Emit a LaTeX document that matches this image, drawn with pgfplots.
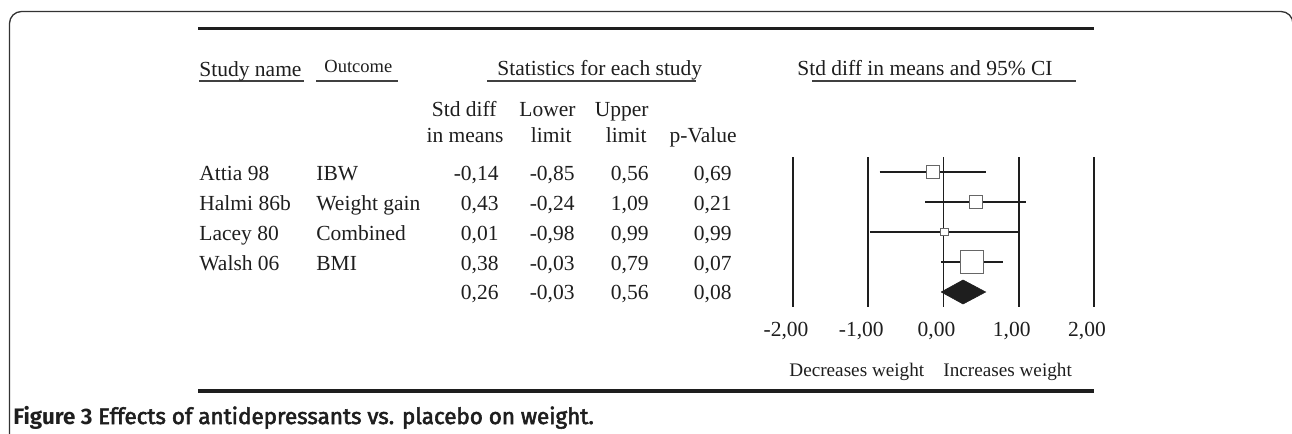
\documentclass[border=0pt]{standalone}
\usepackage{fontspec}
\setmainfont{Liberation Serif}
\newfontfamily\capfont{Fira Sans}
\newfontfamily\capsemi[FakeBold=2.5]{Fira Sans}
\usepackage{pgfplots}
\pgfplotsset{compat=1.18}
\newcommand{\mf}{\fontsize{10.75}{12}\selectfont}
\newcommand{\sfz}{\fontsize{9.25}{11}\selectfont}
\newcommand{\lf}{\fontsize{9.6}{11}\selectfont}
\definecolor{ink}{HTML}{1E1E1E}
\begin{document}
\begin{tikzpicture}[x=0.5pt,y=-0.5pt]
\useasboundingbox (0,0) rectangle (1292,434);
\begin{scope}
\clip (0,0) rectangle (1292,434);
\draw[line width=0.65pt, black!80, rounded corners=6pt] (9.5,600) -- (9.5,11.5) -- (1293,11.5) -- (1293,600);
\end{scope}
% rules
\draw[line width=1.9pt, ink] (198,28.5) -- (1094,28.5);
\draw[line width=1.6pt, ink] (198,391) -- (1094,391);
\draw[line width=0.65pt, black!75] (199,81) -- (304,81);
\draw[line width=0.65pt, black!75] (316,81) -- (398,81);
\draw[line width=0.65pt, black!75] (487,81) -- (696,81);
\draw[line width=0.65pt, black!75] (812,81) -- (1076,81);
% headers
\begin{scope}[every node/.style={inner sep=0pt, text=ink, font=\mf}]
\node[anchor=base west] at (199,76) {Study name};
\node[anchor=base west, font=\sfz] at (324,72) {Outcome};
\node[anchor=base west] at (497,75) {Statistics for each study};
\node[anchor=base west] at (797,75) {Std diff in means and 95\% CI};
\node[anchor=base east] at (497,116) {Std diff};
\node[anchor=base east] at (504,142) {in means};
\node[anchor=base east] at (576,116) {Lower};
\node[anchor=base east] at (572,142) {limit};
\node[anchor=base east] at (649,116) {Upper};
\node[anchor=base east] at (647,142) {limit};
\node[anchor=base east] at (737,142) {p-Value};
% rows
\node[anchor=base west] at (199,180) {Attia 98};
\node[anchor=base west] at (316,180) {IBW};
\node[anchor=base east] at (499,180) {-0,14};
\node[anchor=base east] at (575,180) {-0,85};
\node[anchor=base east] at (649,180) {0,56};
\node[anchor=base east] at (732,180) {0,69};
\node[anchor=base west] at (199,210) {Halmi 86b};
\node[anchor=base west] at (316,210) {Weight gain};
\node[anchor=base east] at (499,210) {0,43};
\node[anchor=base east] at (575,210) {-0,24};
\node[anchor=base east] at (649,210) {1,09};
\node[anchor=base east] at (732,210) {0,21};
\node[anchor=base west] at (199,240) {Lacey 80};
\node[anchor=base west] at (316,240) {Combined};
\node[anchor=base east] at (499,240) {0,01};
\node[anchor=base east] at (575,240) {-0,98};
\node[anchor=base east] at (649,240) {0,99};
\node[anchor=base east] at (732,240) {0,99};
\node[anchor=base west] at (199,270) {Walsh 06};
\node[anchor=base west] at (316,270) {BMI};
\node[anchor=base east] at (499,270) {0,38};
\node[anchor=base east] at (575,270) {-0,03};
\node[anchor=base east] at (649,270) {0,79};
\node[anchor=base east] at (732,270) {0,07};
\node[anchor=base east] at (499,299.5) {0,26};
\node[anchor=base east] at (575,299.5) {-0,03};
\node[anchor=base east] at (649,299.5) {0,56};
\node[anchor=base east] at (732,299.5) {0,08};
\node[anchor=base west, font=\lf] at (789,376) {Decreases weight};
\node[anchor=base west, font=\lf] at (943,376) {Increases weight};
\node[anchor=base west, font=\fontsize{11.2}{13}\selectfont] at (13,424) {{\capfont\bfseries Figure 3} {\capsemi Effects of antidepressants vs. placebo on weight.}};
\end{scope}
\begin{axis}[
  at={(396.5pt,-78.5pt)}, anchor=north west,
  scale only axis, width=150.5pt, height=75pt,
  xmin=-2, xmax=2, ymin=0.5, ymax=5.5,
  axis line style={draw=none}, tick style={draw=none},
  major tick length=0pt,
  ytick=\empty, xtick={-2,-1,0,1,2},
  xticklabels={{-2,00},{-1,00},{0,00},{1,00},{2,00}},
  xticklabel style={anchor=base, yshift=-15pt, xshift=-3.5pt, font=\mf, inner sep=0pt, text=ink},
  clip=false,
]
% reference lines
\addplot[ink, line width=0.9pt] coordinates {(-2,0.5) (-2,5.5)};
\addplot[ink, line width=0.9pt] coordinates {(-1,0.5) (-1,5.5)};
\addplot[ink, line width=0.9pt] coordinates {(0,0.5) (0,5.5)};
\addplot[ink, line width=0.9pt] coordinates {(1,0.5) (1,5.5)};
\addplot[ink, line width=0.9pt] coordinates {(2,0.5) (2,5.5)};
% confidence intervals
\addplot[ink, line width=0.8pt] coordinates {(-0.85,5) (0.56,5)};
\addplot[ink, line width=0.8pt] coordinates {(-0.24,4) (1.09,4)};
\addplot[ink, line width=0.8pt] coordinates {(-0.98,3) (0.99,3)};
\addplot[ink, line width=0.8pt] coordinates {(-0.03,2) (0.79,2)};
% point estimates
\addplot[only marks, mark=square*, mark size=3.1pt, mark options={fill=white, draw=black!60, line width=0.55pt}] coordinates {(-0.14,5)};
\addplot[only marks, mark=square*, mark size=3.35pt, mark options={fill=white, draw=black!60, line width=0.55pt}] coordinates {(0.43,4)};
\addplot[only marks, mark=square*, mark size=1.95pt, mark options={fill=white, draw=black!60, line width=0.55pt}] coordinates {(0.01,3)};
\addplot[only marks, mark=square*, mark size=5.6pt, mark options={fill=white, draw=black!60, line width=0.55pt}] coordinates {(0.38,2)};
% summary diamond
\addplot[fill=ink, draw=ink, line width=0.3pt] coordinates {(-0.03,1) (0.26,1.4) (0.56,1) (0.26,0.6) (-0.03,1)};
\end{axis}
\end{tikzpicture}
\end{document}
